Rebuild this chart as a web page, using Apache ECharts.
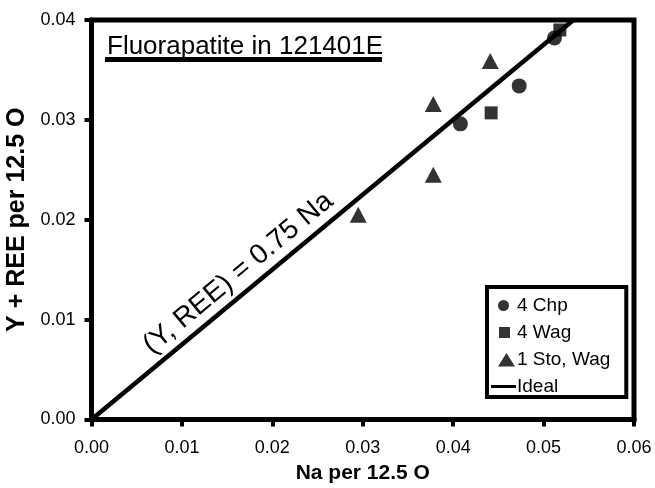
<!DOCTYPE html>
<html>
<head>
<meta charset="utf-8">
<script src="https://cdn.jsdelivr.net/npm/echarts@6/dist/echarts.min.js"></script>
<style>
html,body{margin:0;padding:0;background:#fff;}
#chart{width:655px;height:488px;}
</style>
</head>
<body>
<div id="chart"></div>
<script>
// Na per 12.5 O (x) and Y + REE per 12.5 O (y)
var chpNa = [0.0408, 0.0473, 0.0512];
var chpYREE = [0.0296, 0.0334, 0.0382];
var wagNa = [0.0442, 0.0518];
var wagYREE = [0.0307, 0.0390];
var stoNa = [0.0295, 0.0378, 0.0378, 0.0441];
var stoYREE = [0.0205, 0.0245, 0.0316, 0.0359];
// ideal line (Y, REE) = 0.75 Na, up to the top of the plot
var idealNa = [0, 0.0533];
var idealYREE = [0, 0.04];
var seriesNames = ['4 Chp', '4 Wag', '1 Sto, Wag', 'Ideal'];
var titleText = 'Fluorapatite in 121401E';
var lineLabel = '(Y, REE) = 0.75 Na';

var FONT = "'Liberation Sans', Arial, sans-serif";

// legend icons drawn inside a 26x14 box (the corner points fix the box)
var BOX = 'M0,0L0,0M26,14L26,14';
var legendIcons = [
	'path://' + BOX + 'M8,7A5.5,5.5 0 1 1 19,7A5.5,5.5 0 1 1 8,7Z',
	'path://' + BOX + 'M9,1.5L20,1.5L20,12.5L9,12.5Z',
	'path://' + BOX + 'M8,14L16.5,0.5L25,14Z',
	'path://' + BOX + 'M1,5.5L26,5.5L26,8.5L1,8.5Z'
];

function pairs(xs, ys){
	var out = [];
	for (var i = 0; i < xs.length; i++) {
		out.push([xs[i], ys[i]]);
	}
	return out;
}

function axisBase(){
	return {
		type: 'value',
		interval: 0.01,
		splitLine: {show: false},
		axisLine: {show: true, onZero: false, lineStyle: {color: '#000', width: 5}},
		axisTick: {show: true, inside: false, length: 7, lineStyle: {color: '#000', width: 4}},
		axisLabel: {
			color: '#000', fontSize: 18, fontFamily: FONT,
			formatter: function(v){ return v.toFixed(2); }
		},
		nameLocation: 'middle',
		nameTextStyle: {color: '#000', fontSize: 21, fontWeight: 'bold', fontFamily: FONT}
	};
}

function buildOption(){
	var xAxis = axisBase();
	xAxis.min = 0; xAxis.max = 0.06;
	xAxis.name = 'Na per 12.5 O';
	xAxis.nameGap = 41;
	xAxis.axisLabel.margin = 20;

	var yAxis = axisBase();
	yAxis.min = 0; yAxis.max = 0.04;
	yAxis.name = 'Y + REE per 12.5 O';
	yAxis.nameGap = 57;
	yAxis.nameTextStyle.fontSize = 25;
	yAxis.axisLabel.margin = 16;

	var legendData = [];
	for (var i = 0; i < seriesNames.length; i++) {
		legendData.push({name: seriesNames[i], icon: legendIcons[i]});
	}

	return {
		animation: false,
		backgroundColor: '#fff',
		textStyle: {fontFamily: FONT},
		title: {
			text: titleText,
			left: 102, top: 29,
			textStyle: {color: '#000', fontSize: 26, fontWeight: 'normal', fontFamily: FONT}
		},
		graphic: [{
			type: 'rect', left: 105, top: 57,
			shape: {width: 277, height: 5},
			style: {fill: '#000'}
		}],
		grid: {
			left: 91.5, right: 21, top: 20, bottom: 68.5,
			show: true, borderColor: '#000', borderWidth: 5,
			outerBoundsMode: 'none'
		},
		legend: {
			orient: 'vertical',
			left: 487, top: 287,
			padding: [9, 16, 1, 3],
			itemWidth: 26, itemHeight: 14, itemGap: 8,
			borderColor: '#000', borderWidth: 4,
			backgroundColor: '#fff',
			textStyle: {color: '#000', fontSize: 19, fontFamily: FONT, padding: [0, 0, 0, -4]},
			data: legendData
		},
		xAxis: xAxis,
		yAxis: yAxis,
		series: [
			{
				name: seriesNames[0], type: 'scatter', symbol: 'circle', symbolSize: 15,
				itemStyle: {color: '#000'}, data: pairs(chpNa, chpYREE)
			},
			{
				name: seriesNames[1], type: 'scatter', symbol: 'rect', symbolSize: 13,
				itemStyle: {color: '#000'}, data: pairs(wagNa, wagYREE)
			},
			{
				name: seriesNames[2], type: 'scatter', symbol: 'triangle', symbolSize: [17, 16],
				itemStyle: {color: '#000'}, data: pairs(stoNa, stoYREE)
			},
			{
				name: seriesNames[3], type: 'line', symbol: 'none',
				lineStyle: {color: '#000', width: 4.5},
				itemStyle: {color: '#000'},
				data: pairs(idealNa, idealYREE),
				z: 3,
				markLine: {
					silent: true, symbol: 'none',
					lineStyle: {color: 'rgba(0,0,0,0)', width: 0},
					label: {
						show: true, position: 'insideStartTop', distance: [88, 5],
						formatter: lineLabel, opacity: 1,
						color: '#000', fontSize: 28, fontFamily: FONT
					},
					data: [[{coord: [idealNa[0], idealYREE[0]]}, {coord: [idealNa[1], idealYREE[1]]}]]
				}
			}
		]
	};
}

var chart = echarts.init(document.getElementById('chart'), null, {renderer: 'canvas'});
chart.setOption(buildOption());
</script>
</body>
</html>
